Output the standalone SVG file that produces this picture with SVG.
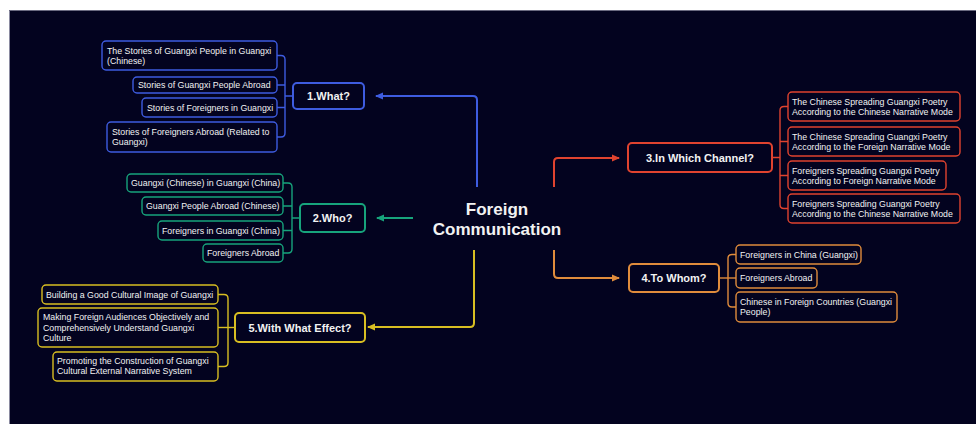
<svg xmlns="http://www.w3.org/2000/svg" width="976" height="424" viewBox="0 0 976 424">
<defs>
<style>
.leaf{fill:#03031f;stroke-width:1.4}
.par{fill:#03031f;stroke-width:2}
.lt{font-family:"Liberation Sans",Arial,sans-serif;font-size:8.8px;fill:#f2f2f2}
.pt{font-family:"Liberation Sans",Arial,sans-serif;font-size:11px;font-weight:bold;fill:#f2f2f2;text-anchor:middle}
.ct{font-family:"Liberation Sans",Arial,sans-serif;font-size:17px;font-weight:bold;fill:#f2f2f2;text-anchor:middle}
.br{fill:none;stroke-width:1.4}
.mc{fill:none;stroke-width:2}
.b{stroke:#3e5ce0}.g{stroke:#17a47c}.y{stroke:#d8be22}.r{stroke:#e0432f}.o{stroke:#e08c3c}
</style>
<marker id="ab" markerWidth="8" markerHeight="8" refX="7" refY="4" orient="auto" markerUnits="userSpaceOnUse"><path d="M0,0.5 L8,4 L0,7.5 Z" fill="#3e5ce0"/></marker>
<marker id="ag" markerWidth="8" markerHeight="8" refX="7" refY="4" orient="auto" markerUnits="userSpaceOnUse"><path d="M0,0.5 L8,4 L0,7.5 Z" fill="#17a47c"/></marker>
<marker id="ay" markerWidth="8" markerHeight="8" refX="7" refY="4" orient="auto" markerUnits="userSpaceOnUse"><path d="M0,0.5 L8,4 L0,7.5 Z" fill="#d8be22"/></marker>
<marker id="ar" markerWidth="8" markerHeight="8" refX="7" refY="4" orient="auto" markerUnits="userSpaceOnUse"><path d="M0,0.5 L8,4 L0,7.5 Z" fill="#e0432f"/></marker>
<marker id="ao" markerWidth="8" markerHeight="8" refX="7" refY="4" orient="auto" markerUnits="userSpaceOnUse"><path d="M0,0.5 L8,4 L0,7.5 Z" fill="#e08c3c"/></marker>
</defs>
<rect x="0" y="0" width="976" height="424" fill="#ffffff"/>
<rect x="9" y="10" width="967" height="414" fill="#03031f"/>
<line x1="9.5" y1="10" x2="9.5" y2="424" stroke="#8a8aa0" stroke-width="1"/>
<line x1="9" y1="10.5" x2="976" y2="10.5" stroke="#6a6a80" stroke-width="1"/>

<g id="connectors">
<path class="mc b" d="M477 187 V100 Q477 96 473 96 H376" marker-end="url(#ab)"/>
<path class="mc g" d="M413 218 H377" marker-end="url(#ag)"/>
<path class="mc r" d="M554 187 V162 Q554 158 558 158 H619" marker-end="url(#ar)"/>
<path class="mc y" d="M474 250 V323 Q474 327 470 327 H368" marker-end="url(#ay)"/>
<path class="mc o" d="M554 250 V274 Q554 278 558 278 H619" marker-end="url(#ao)"/>
<path class="br b" d="M277 55.5 H281 Q285 55.5 285 59.5 V133 Q285 137 281 137 H277"/>
<path class="br b" d="M277 85 H285 M277 107.5 H285 M285 96 H293"/>
<path class="br g" d="M283 183 H288 Q292 183 292 187 V249 Q292 253 288 253 H283"/>
<path class="br g" d="M283 206 H292 M283 230.5 H292 M292 218 H300"/>
<path class="br y" d="M218 294.5 H224 Q228 294.5 228 298.5 V362.5 Q228 366.5 224 366.5 H218"/>
<path class="br y" d="M218 327.5 H235"/>
<path class="br r" d="M788 106.5 H784 Q780 106.5 780 110.5 V204.5 Q780 208.5 784 208.5 H788"/>
<path class="br r" d="M780 141.5 H788 M780 175.5 H788 M772 157.5 H780"/>
<path class="br o" d="M736 254.5 H732 Q728 254.5 728 258.5 V303 Q728 307 732 307 H736"/>
<path class="br o" d="M719 278 H736"/>
</g>

<g id="center"><text class="ct" x="497" y="215">Foreign</text><text class="ct" x="497" y="235">Communication</text></g>

<g id="what"><rect class="par b" x="293" y="83" width="71" height="26" rx="4"/><text class="pt" x="328.5" y="100">1.What?</text></g>
<g id="what1"><rect class="leaf b" x="102" y="41" width="175" height="29" rx="4"/><text class="lt" x="107" y="53.5">The Stories of Guangxi People in Guangxi</text><text class="lt" x="107" y="63.5">(Chinese)</text></g>
<g id="what2"><rect class="leaf b" x="133" y="77" width="144" height="16" rx="4"/><text class="lt" x="138" y="88">Stories of Guangxi People Abroad</text></g>
<g id="what3"><rect class="leaf b" x="142" y="98" width="135" height="19" rx="4"/><text class="lt" x="147" y="110.5">Stories of Foreigners in Guangxi</text></g>
<g id="what4"><rect class="leaf b" x="107" y="122" width="170" height="30" rx="4"/><text class="lt" x="112" y="135">Stories of Foreigners Abroad (Related to</text><text class="lt" x="112" y="145">Guangxi)</text></g>

<g id="who"><rect class="par g" x="300" y="204" width="65" height="28" rx="4"/><text class="pt" x="332.5" y="222">2.Who?</text></g>
<g id="who1"><rect class="leaf g" x="127" y="174" width="156" height="18" rx="4"/><text class="lt" x="131" y="186">Guangxi (Chinese) in Guangxi (China)</text></g>
<g id="who2"><rect class="leaf g" x="142" y="197" width="141" height="18" rx="4"/><text class="lt" x="146" y="209">Guangxi People Abroad (Chinese)</text></g>
<g id="who3"><rect class="leaf g" x="158" y="221" width="125" height="19" rx="4"/><text class="lt" x="162" y="233.5">Foreigners in Guangxi (China)</text></g>
<g id="who4"><rect class="leaf g" x="203" y="244" width="80" height="18" rx="4"/><text class="lt" x="207" y="256">Foreigners Abroad</text></g>

<g id="effect"><rect class="par y" x="235" y="313" width="130" height="29" rx="4"/><text class="pt" x="300" y="331.5">5.With What Effect?</text></g>
<g id="effect1"><rect class="leaf y" x="42" y="285" width="176" height="19" rx="4"/><text class="lt" x="46" y="297.5">Building a Good Cultural Image of Guangxi</text></g>
<g id="effect2"><rect class="leaf y" x="38" y="308" width="180" height="39" rx="4"/><text class="lt" x="43" y="320">Making Foreign Audiences Objectively and</text><text class="lt" x="43" y="330.5">Comprehensively Understand Guangxi</text><text class="lt" x="43" y="340.5">Culture</text></g>
<g id="effect3"><rect class="leaf y" x="53" y="352" width="165" height="29" rx="4"/><text class="lt" x="57" y="364">Promoting the Construction of Guangxi</text><text class="lt" x="57" y="374">Cultural External Narrative System</text></g>

<g id="channel"><rect class="par r" x="628" y="143" width="144" height="29" rx="4"/><text class="pt" x="700" y="161.5">3.In Which Channel?</text></g>
<g id="channel1"><rect class="leaf r" x="788" y="92" width="172" height="29" rx="4"/><text class="lt" x="792" y="105">The Chinese Spreading Guangxi Poetry</text><text class="lt" x="792" y="115">According to the Chinese Narrative Mode</text></g>
<g id="channel2"><rect class="leaf r" x="788" y="127" width="172" height="29" rx="4"/><text class="lt" x="792" y="140">The Chinese Spreading Guangxi Poetry</text><text class="lt" x="792" y="149.5">According to the Foreign Narrative Mode</text></g>
<g id="channel3"><rect class="leaf r" x="788" y="161" width="158" height="29" rx="4"/><text class="lt" x="792" y="174">Foreigners Spreading Guangxi Poetry</text><text class="lt" x="792" y="183.5">According to Foreign Narrative Mode</text></g>
<g id="channel4"><rect class="leaf r" x="788" y="194" width="172" height="29" rx="4"/><text class="lt" x="792" y="207">Foreigners Spreading Guangxi Poetry</text><text class="lt" x="792" y="217">According to the Chinese Narrative Mode</text></g>

<g id="whom"><rect class="par o" x="629" y="264" width="90" height="28" rx="4"/><text class="pt" x="674" y="282">4.To Whom?</text></g>
<g id="whom1"><rect class="leaf o" x="736" y="245" width="125" height="19" rx="4"/><text class="lt" x="740" y="257.5">Foreigners in China (Guangxi)</text></g>
<g id="whom2"><rect class="leaf o" x="736" y="268" width="81" height="20" rx="4"/><text class="lt" x="740" y="281">Foreigners Abroad</text></g>
<g id="whom3"><rect class="leaf o" x="736" y="292" width="161" height="30" rx="4"/><text class="lt" x="740" y="305">Chinese in Foreign Countries (Guangxi</text><text class="lt" x="740" y="315">People)</text></g>
</svg>
